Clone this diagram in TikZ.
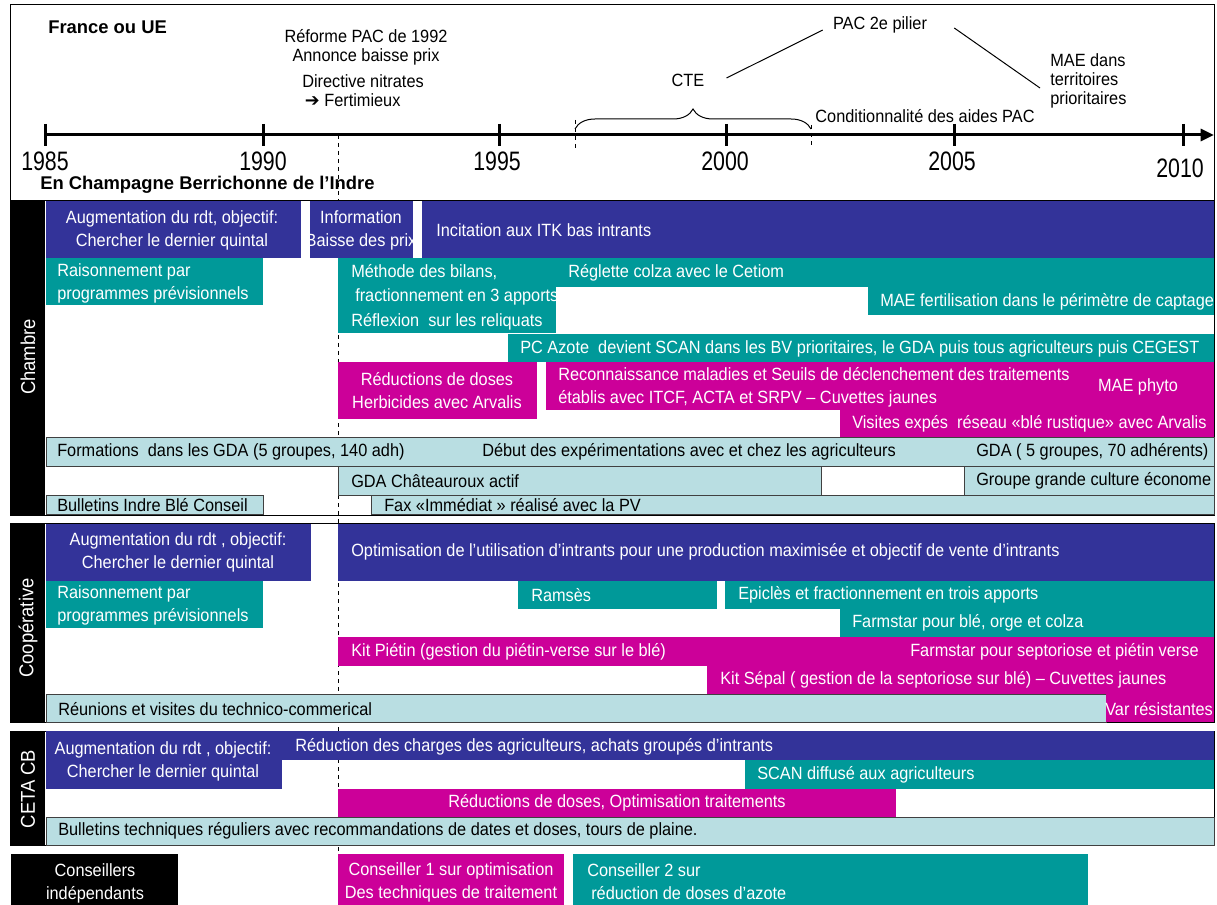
\documentclass[tikz,border=0pt]{standalone}
\usepackage{fontspec}
\setmainfont{Liberation Sans}[FakeStretch=0.92]
\newfontfamily\ttlfont{Liberation Sans}
\newfontfamily\yearfont{Liberation Sans}[FakeStretch=0.8]
\newfontfamily\symbfont{DejaVu Sans}
\usetikzlibrary{arrows.meta,calc,decorations.pathreplacing}
\definecolor{cblue}{RGB}{51,51,153}
\definecolor{cteal}{RGB}{0,153,153}
\definecolor{cmag}{RGB}{204,0,153}
\definecolor{clight}{RGB}{185,222,226}
\tikzset{
  txt/.style={inner sep=0pt, font=\fontsize{13.3}{17.25}\selectfont},
  wtxt/.style={txt, text=white},
  lw/.style={wtxt, anchor=west, align=left},
  lb/.style={txt, anchor=west, align=left},
  toptxt/.style={inner sep=0pt, font=\fontsize{13.3}{14.2}\selectfont},
  year/.style={inner sep=0pt, font=\yearfont\fontsize{20}{22}\selectfont},
  ttl/.style={inner sep=0pt, anchor=west, font=\ttlfont\bfseries\fontsize{13.8}{16}\selectfont},
  sect/.style={draw=black, line width=0.75pt},
  light/.style={fill=clight, draw=black!75, line width=0.75pt},
  lab/.style={text=white, rotate=90, inner sep=0pt, font=\fontsize{15}{16}\selectfont},
}
\begin{document}
\begin{tikzpicture}[x=0.75pt, y=-0.75pt]
\useasboundingbox (0,0) rectangle (1217,905);

% France ou UE
\draw[sect] (10,5) rectangle (1214,201);
\node[ttl] (france) at (48,27) {France ou UE};
\node[toptxt, align=center] (reforme) at (366,47) {Réforme PAC de 1992\\Annonce baisse prix};
\node[toptxt, anchor=west, align=left] (directive) at (302,91) {Directive nitrates\\\hspace{2pt}{\symbfont ➔} Fertimieux};
\node[toptxt] (cte) at (688,80) {CTE};
\node[toptxt] (pac) at (880,25) {PAC 2e pilier};
\node[toptxt, anchor=west, align=left] (mae) at (1050,81) {MAE dans\\territoires\\prioritaires};
\node[toptxt] (cond) at (925,116) {Conditionnalité des aides PAC};
\draw[line width=0.75pt] ($(cte.east)+(22,-2)$) -- ($(pac.west)+(-10,5)$);
\draw[line width=0.75pt] ($(pac.east)+(27,3)$) -- ($(mae.west)+(-10,7)$);
\draw[line width=0.75pt, decorate, decoration={brace, amplitude=15pt}] (575,129) -- (811,129);
\draw[dashed] (575,120) -- (575,148);
\draw[dashed] (811,125) -- (811,148);

% axe
\draw[line width=2.25pt, -{Triangle[length=10pt,width=9pt]}] (45,135) -- (1214,135);
\foreach \x in {45,263,499,726,954,1183}
  \draw[line width=2.25pt] (\x,124) -- (\x,146);
\foreach \x/\yr in {45/1985,263/1990,497/1995,725/2000,952/2005}
  \node[year] (y\yr) at (\x,161) {\yr};
\node[year] (y2010) at (1180,168) {2010};
\node[ttl] (champagne) at (40,185) {En Champagne Berrichonne de l’Indre};

% sections
\draw[sect] (10,201) rectangle (1214,515);
\draw[sect] (10,523) rectangle (1214,722);
\draw[sect] (10,731) rectangle (1214,845);
\draw[dashed, line width=0.6pt] (338,135) -- (338,905);
\fill (11,201) rectangle (45,515);
\fill (11,523) rectangle (45,722);
\fill (11,731) rectangle (45,845);
\node[lab] (chambre) at (28,357) {Chambre};
\node[lab] (coop) at (28,628) {Coopérative};
\node[lab] (ceta) at (28,789) {CETA CB};

% Chambre
\fill[cblue] (46,201) rectangle (301,258);
\fill[cblue] (310,201) rectangle (413,258);
\fill[cblue] (422,201) rectangle (1214,258);
\fill[cteal] (46,258) rectangle (263,305);
\fill[cteal] (338,258) rectangle (556,333);
\fill[cteal] (556,258) rectangle (1214,287);
\fill[cteal] (868,287) rectangle (1214,315);
\fill[cteal] (508,334) rectangle (1214,362);
\fill[cmag] (338,362) rectangle (537,419);
\fill[cmag] (546,362) rectangle (1214,410);
\fill[cmag] (840,410) rectangle (1214,437);
\draw[light] (46,437) rectangle (1214,466);
\draw[light] (338,466) rectangle (821,495);
\draw[draw=black!75, line width=0.75pt] (821,466) rectangle (964,495);
\draw[light] (964,466) rectangle (1214,495);
\draw[light] (46,495) rectangle (263,514);
\draw[light] (371,495) rectangle (1214,514);

\node[wtxt, align=center] (chAug) at (172,230) {Augmentation du rdt, objectif:\\Chercher le dernier quintal};
\begin{scope}
  \clip (310,201) rectangle (413,258);
  \node[wtxt, align=center] (chInfo) at (361,230) {Information\\Baisse des prix};
\end{scope}
\node[lw] (chItk) at (436,230) {Incitation aux ITK bas intrants};
\node[lw] (chRais) at (57,283) {Raisonnement par\\programmes prévisionnels};
\begin{scope}
  \clip (338,258) rectangle (556,333);
  \node[lw, font=\fontsize{13.3}{18.3}\selectfont] (chBilan) at (351,297) {Méthode des bilans,\\\hspace{3pt}fractionnement en 3 apports\\Réflexion\ \ sur les reliquats};
\end{scope}
\node[lw] (chRegl) at (568,273) {Réglette colza avec le Cetiom};
\begin{scope}
  \clip (868,287) rectangle (1214,315);
  \node[lw] (chMaeF) at (880,302) {MAE fertilisation dans le périmètre de captage};
\end{scope}
\node[lw] (chScan) at (520,349) {PC Azote\ \ devient SCAN dans les BV prioritaires, le GDA puis tous agriculteurs puis CEGEST};
\node[wtxt, align=center] (chHerb) at (437,391) {Réductions de doses\\Herbicides avec Arvalis};
\node[lw] (chSeuil) at (558,387) {Reconnaissance maladies et Seuils de déclenchement des traitements\\établis avec ITCF, ACTA et SRPV – Cuvettes jaunes};
\node[wtxt] (chMaeP) at (1138,387) {MAE phyto};
\node[lw] (chVisit) at (852,424) {Visites expés\ \ réseau «blé rustique» avec Arvalis};
\node[lb] (chForm) at (57,452) {Formations\ \ dans les GDA (5 groupes, 140 adh)};
\node[lb] (chDebut) at (482,452) {Début des expérimentations avec et chez les agriculteurs};
\node[lb] (chGda) at (976,452) {GDA ( 5 groupes, 70 adhérents)};
\node[lb] (chChat) at (351,481) {GDA Châteauroux actif};
\begin{scope}
  \clip (964,466) rectangle (1213,495);
  \node[lb] (chEco) at (976,481) {Groupe grande culture économe};
\end{scope}
\node[lb] (chBull) at (57,505) {Bulletins Indre Blé Conseil};
\node[lb] (chFax) at (384,505) {Fax «Immédiat » réalisé avec la PV};

% Cooperative
\fill[cblue] (46,524) rectangle (311,581);
\fill[cblue] (338,524) rectangle (1214,581);
\fill[cteal] (46,581) rectangle (263,628);
\fill[cteal] (518,581) rectangle (717,609);
\fill[cteal] (725,581) rectangle (1214,609);
\fill[cteal] (840,609) rectangle (1214,637);
\fill[cmag] (338,637) rectangle (1214,666);
\fill[cmag] (707,666) rectangle (1214,694);
\draw[light] (46,694) rectangle (1106,722);
\fill[cmag] (1106,694) rectangle (1214,722);

\node[wtxt, align=center] (coAug) at (178,552) {Augmentation du rdt , objectif:\\Chercher le dernier quintal};
\node[lw] (coOpti) at (351,552) {Optimisation de l’utilisation d’intrants pour une production maximisée et objectif de vente d’intrants};
\node[lw] (coRais) at (57,605) {Raisonnement par\\programmes prévisionnels};
\node[lw] (coRams) at (531,595) {Ramsès};
\node[lw] (coEpi) at (738,595) {Epiclès et fractionnement en trois apports};
\node[lw] (coFarm) at (852,623) {Farmstar pour blé, orge et colza};
\node[lw] (coKitP) at (351,652) {Kit Piétin (gestion du piétin-verse sur le blé)};
\node[lw] (coFarmS) at (910,652) {Farmstar pour septoriose et piétin verse};
\node[lw] (coKitS) at (720,680) {Kit Sépal ( gestion de la septoriose sur blé) – Cuvettes jaunes};
\node[lb] (coReun) at (58,709) {Réunions et visites du technico-commerical};
\begin{scope}
  \clip (1100,694) rectangle (1213,722);
  \node[lw] (coVar) at (1105,709) {Var résistantes};
\end{scope}

% CETA CB
\fill[cblue] (46,731) rectangle (282,789);
\fill[cblue] (282,731) rectangle (1214,760);
\fill[cteal] (745,760) rectangle (1214,789);
\fill[cmag] (338,789) rectangle (896,817);
\draw[light] (46,817) rectangle (1214,845);

\node[wtxt, align=center] (ceAug) at (163,761) {Augmentation du rdt , objectif:\\Chercher le dernier quintal};
\node[lw] (ceRed) at (295,747) {Réduction des charges des agriculteurs, achats groupés d’intrants};
\node[lw] (ceScan) at (757,775) {SCAN diffusé aux agriculteurs};
\node[wtxt] (ceDose) at (617,803) {Réductions de doses, Optimisation traitements};
\node[lb] (ceBull) at (58,831) {Bulletins techniques réguliers avec recommandations de dates et doses, tours de plaine.};

% conseillers
\fill (11,854) rectangle (178,905);
\fill[cmag] (338,854) rectangle (564,905);
\fill[cteal] (573,854) rectangle (1088,905);
\node[wtxt, align=center] (indep) at (95,883) {Conseillers\\indépendants};
\node[wtxt, align=center] (cons1) at (451,882) {Conseiller 1 sur optimisation\\Des techniques de traitement};
\node[lw] (cons2) at (587,882) {Conseiller 2 sur\\\hspace{3pt}réduction de doses d’azote};
\end{tikzpicture}
\end{document}
